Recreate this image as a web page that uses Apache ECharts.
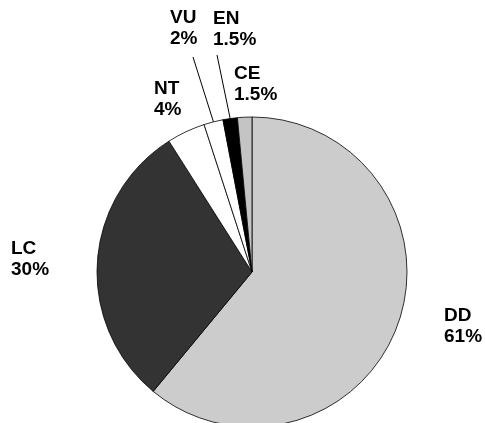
<!DOCTYPE html>
<html>
<head>
<meta charset="utf-8">
<script src="https://cdn.jsdelivr.net/npm/echarts@6/dist/echarts.min.js"></script>
<style>
  html, body { margin: 0; padding: 0; background: #fff; }
  #chart { width: 485px; height: 423px; }
</style>
</head>
<body>
<div id="chart"></div>
<script>
const categories = ["DD", "LC", "NT", "VU", "EN", "CE"];
const shares = [61, 30, 4, 2, 1.5, 1.5];
const fills = ["#cccccc", "#333333", "#ffffff", "#ffffff", "#000000", "#c4c4c4"];
const withLeader = ["VU", "EN"];

// where each label's text box sits (top-left), and where its leader ends
const labelAt = {
  DD: [444, 305], LC: [11, 238], NT: [154, 78],
  VU: [170, 7], EN: [213, 8], CE: [234, 63]
};
const leaderEnd = { VU: [193, 57], EN: [217, 55] };

const chart = echarts.init(document.getElementById("chart"), null, { renderer: "canvas" });

chart.setOption({
  backgroundColor: "#ffffff",
  animation: false,
  series: [{
    type: "pie",
    center: [252, 272],
    radius: 155,
    startAngle: 90,
    clockwise: true,
    avoidLabelOverlap: false,
    itemStyle: { borderColor: "#000000", borderWidth: 0.8 },
    label: {
      show: true,
      position: "outside",
      formatter: "{b}\n{c}%",
      color: "#000000",
      fontFamily: "Liberation Sans, Arial, sans-serif",
      fontSize: 19,
      fontWeight: "bold",
      lineHeight: 21
    },
    labelLine: { show: false, lineStyle: { color: "#000000", width: 1 } },
    emphasis: { disabled: true },
    data: categories.map((name, i) => ({
      name: name,
      value: shares[i],
      itemStyle: { color: fills[i] },
      labelLine: { show: withLeader.includes(name), length: 10, length2: 0 }
    })),
    labelLayout: function (params) {
      const name = categories[params.dataIndex];
      const pos = labelAt[name];
      const out = { x: pos[0], y: pos[1], align: "left", verticalAlign: "top" };
      if (leaderEnd[name] && params.labelLinePoints) {
        out.labelLinePoints = [params.labelLinePoints[0], leaderEnd[name]];
      }
      return out;
    }
  }]
});
</script>
</body>
</html>
